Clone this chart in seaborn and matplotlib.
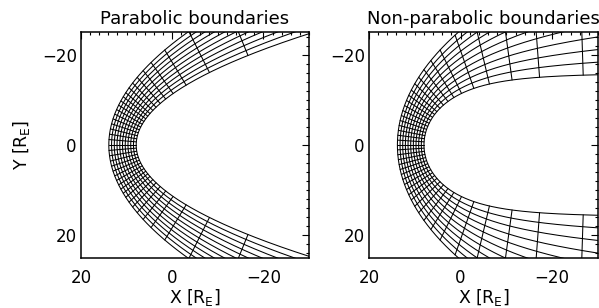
import numpy as np
import matplotlib
matplotlib.use("Agg")
import matplotlib.pyplot as plt
import seaborn as sns

# ---------------- data ----------------
# Left panel: parabolic boundaries  X = x0 - Y^2 / k   (R_E)
par_inner_x0, par_inner_k = 7.9, 16.0
par_outer_x0, par_outer_k = 13.9, 36.0
# Right panel: non-parabolic boundaries  r = r0 * (2 / (1 + cos th))**alpha
npar_inner_r0, npar_inner_alpha = 8.0, 0.5
npar_outer_r0, npar_outer_alpha = 13.8, 0.88
# number of cells across the sheath
n_layers = 10
# polar angles (deg, from Earth) of the inner-boundary feet of transverse lines (one half, mirrored)
par_cross_theta = [0, 5, 10, 15, 20, 25, 30, 35, 40, 45, 50, 55, 61, 67, 74, 82, 91, 103, 117, 130]
npar_cross_theta = [0, 5, 10, 15, 20, 25, 30, 35, 40, 45, 50, 55, 61, 67, 74, 82, 91, 103, 115, 128, 139, 150]

titles = ["Parabolic boundaries", "Non-parabolic boundaries"]
x_ticks = [20, 0, -20]
y_ticks = [-20, 0, 20]
x_lim = (20, -30)
y_lim = (25, -25)

# ---------------- helpers ----------------
def parabola(x0, k, th):
    th = np.asarray(th, float)
    c, s = np.cos(th), np.sin(th)
    a = s ** 2 / k
    r = np.where(a > 1e-12,
                 (-c + np.sqrt(c ** 2 + 4 * a * x0)) / (2 * np.maximum(a, 1e-12)),
                 x0 / np.where(np.abs(c) > 1e-9, c, 1e-9))
    return r * c, r * s

def shue(r0, alpha, th):
    th = np.asarray(th, float)
    r = r0 * (2.0 / (1.0 + np.cos(th))) ** alpha
    return r * np.cos(th), r * np.sin(th)

def sheath_grid(inner, outer, th_dense, fracs):
    xi, yi = inner(th_dense)
    tx, ty = np.gradient(xi), np.gradient(yi)
    nx, ny = ty, -tx
    nn = np.hypot(nx, ny)
    nx, ny = nx / nn, ny / nn
    flip = (nx * xi + ny * yi) < 0
    nx[flip] *= -1
    ny[flip] *= -1
    tho = np.linspace(-np.pi * 0.985, np.pi * 0.985, 3000)
    xo, yo = outer(tho)
    ax_, ay_ = xo[:-1], yo[:-1]
    bx_, by_ = xo[1:] - xo[:-1], yo[1:] - yo[:-1]
    px, py = xi[:, None], yi[:, None]
    qx, qy = nx[:, None], ny[:, None]
    den = qx * by_ - qy * bx_
    den = np.where(np.abs(den) < 1e-12, 1e-12, den)
    apx, apy = ax_ - px, ay_ - py
    d = (apx * by_ - apy * bx_) / den
    t = (apx * qy - apy * qx) / den
    ok = (t >= 0) & (t <= 1) & (d > 0)
    d = np.where(ok, d, np.inf).min(axis=1)
    d[~np.isfinite(d)] = np.nan
    fr = np.asarray(fracs, float)[:, None]
    gx = xi[None, :] + fr * d[None, :] * nx[None, :]
    gy = yi[None, :] + fr * d[None, :] * ny[None, :]
    return gx, gy

def draw_panel(ax, inner, outer, cross_deg, title):
    fracs = np.linspace(0, 1, n_layers + 1)
    th_dense = np.radians(np.linspace(-172, 172, 1400))
    gx, gy = sheath_grid(inner, outer, th_dense, fracs)
    for j in range(len(fracs)):
        sns.lineplot(x=gx[j], y=gy[j], ax=ax, color="black", lw=0.75, sort=False,
                     estimator=None, legend=False)
    cross = np.array(cross_deg, float)
    cross = np.unique(np.concatenate([-cross, cross]))
    for th in np.radians(cross):
        loc = th + np.radians(np.array([-0.2, -0.1, 0.0, 0.1, 0.2]))
        lx, ly = sheath_grid(inner, outer, loc, [0.0, 1.0])
        sns.lineplot(x=lx[:, 2], y=ly[:, 2], ax=ax, color="black", lw=0.75, sort=False,
                     estimator=None, legend=False)
    ax.set_xlim(*x_lim)
    ax.set_ylim(*y_lim)
    ax.set_xticks(x_ticks)
    ax.set_xticklabels(["20", "0", "\u221220"])
    ax.set_yticks(y_ticks)
    ax.set_yticklabels(["\u221220", "0", "20"])
    ax.set_xticks(np.arange(-30, 21, 2), minor=True)
    ax.set_yticks(np.arange(-24, 25, 2), minor=True)
    ax.tick_params(which="both", direction="in", top=True, right=True, width=0.8,
                   color="black", labelcolor="black")
    ax.tick_params(which="major", length=5, labelsize=12)
    ax.tick_params(which="minor", length=2.5)
    ax.tick_params(axis="x", which="major", pad=8)
    ax.tick_params(axis="y", which="major", pad=3)
    for sp in ax.spines.values():
        sp.set_linewidth(1.1)
        sp.set_color("black")
    ax.set_title(title, fontsize=13, pad=6, color="black")
    ax.set_xlabel("X [R$_\\mathregular{E}$]", fontsize=12.5, labelpad=0, color="black")
    ax.set_ylabel("")

sns.set_theme(style="white")
plt.rcParams["font.family"] = ["DejaVu Sans"]
plt.rcParams["mathtext.default"] = "regular"
plt.rcParams["text.color"] = "black"
plt.rcParams["axes.labelcolor"] = "black"

fig = plt.figure(figsize=(5.99, 3.08), dpi=100)
axL = fig.add_axes([81 / 599, 50 / 308, 228 / 599, 226 / 308])
axR = fig.add_axes([369 / 599, 50 / 308, 229 / 599, 226 / 308])

draw_panel(axL, lambda th: parabola(par_inner_x0, par_inner_k, th),
           lambda th: parabola(par_outer_x0, par_outer_k, th), par_cross_theta, titles[0])
draw_panel(axR, lambda th: shue(npar_inner_r0, npar_inner_alpha, th),
           lambda th: shue(npar_outer_r0, npar_outer_alpha, th), npar_cross_theta, titles[1])
axL.set_ylabel("Y [R$_\\mathregular{E}$]", fontsize=12.5, labelpad=7, color="black")

fig.savefig("out.png", dpi=100, facecolor="white")
